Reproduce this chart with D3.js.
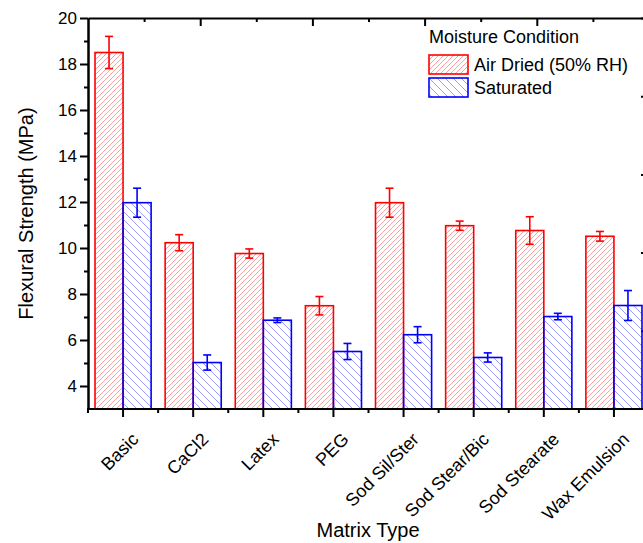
<!DOCTYPE html>
<html>
<head>
<meta charset="utf-8">
<script src="https://cdnjs.cloudflare.com/ajax/libs/d3/7.8.5/d3.min.js"></script>
<style>
  html, body { margin: 0; padding: 0; background: #fff; }
  svg { display: block; font-family: "Liberation Sans", Arial, sans-serif; }
</style>
</head>
<body>
<div id="chart"></div>
<script>
var categories = ["Basic", "CaCl2", "Latex", "PEG", "Sod Sil/Ster", "Sod Stear/Bic", "Sod Stearate", "Wax Emulsion"];
var seriesNames = ["Air Dried (50% RH)", "Saturated"];
var airDried = [18.5, 10.23, 9.76, 7.49, 11.97, 10.97, 10.76, 10.51];
var airDriedErr = [0.7, 0.35, 0.2, 0.4, 0.63, 0.2, 0.6, 0.21];
var saturated = [11.97, 5.02, 6.86, 5.5, 6.23, 5.24, 7.02, 7.5];
var saturatedErr = [0.63, 0.33, 0.1, 0.35, 0.35, 0.2, 0.14, 0.65];
var yMajorTicks = [4, 6, 8, 10, 12, 14, 16, 18, 20];
var yMinorTicks = [5, 7, 9, 11, 13, 15, 17, 19];
var topTicks = [1, 2, 3, 4, 5, 6, 7, 8, 9];
var rightTicks = [1, 2, 3, 4, 5];

(function () {
    var width = 643, height = 543;
    var plotLeft = 88, plotRight = 649, plotTop = 18, plotBottom = 409;

    var svg = d3.select("#chart").append("svg")
	    .attr("width", width)
	    .attr("height", height);

    // hatch patterns (same user space for every bar)
    var defs = svg.append("defs");
    defs.append("pattern")
	.attr("id", "hatchRed")
	.attr("patternUnits", "userSpaceOnUse")
	.attr("width", 5).attr("height", 5)
	.append("path")
	.attr("d", "M0,5 L5,0 M-1,1 L1,-1 M4,6 L6,4")
	.attr("stroke", "#ffa0a0")
	.attr("stroke-width", 1);
    defs.append("pattern")
	.attr("id", "hatchBlue")
	.attr("patternUnits", "userSpaceOnUse")
	.attr("width", 8).attr("height", 8)
	.append("path")
	.attr("d", "M0,0 L8,8 M-1,7 L1,9 M7,-1 L9,1")
	.attr("stroke", "#9c9cff")
	.attr("stroke-width", 1);

    var x = d3.scaleBand()
	    .domain(categories)
	    .range([plotLeft, plotRight])
	    .paddingInner(0.2)
	    .paddingOuter(0.1);
    var xSeries = d3.scaleBand()
	    .domain([0, 1])
	    .range([0, x.bandwidth()]);
    var y = d3.scaleLinear()
	    .domain([3, 20])
	    .range([plotBottom, plotTop]);
    var xTop = d3.scaleLinear().domain([0, 10]).range([plotLeft, plotRight]);
    var yRight = d3.scaleLinear().domain([0, 5]).range([plotBottom, plotTop]);

    var colors = ["#ff0000", "#0000ff"];
    var fills = ["url(#hatchRed)", "url(#hatchBlue)"];

    var styleAxis = function (g) {
	g.select(".domain").attr("stroke-width", 2);
	g.selectAll(".tick line").attr("stroke-width", 2);
	g.selectAll(".tick text").attr("fill", "#000");
    };

    // right axis ticks (mostly off the picture)
    svg.append("g")
	.attr("transform", "translate(" + plotRight + ",0)")
	.call(d3.axisRight(yRight).tickValues(rightTicks).tickSize(-8).tickFormat("").tickSizeOuter(0))
	.call(styleAxis);

    var rows = categories.map(function (c, i) {
	return {cat: c, values: [airDried[i], saturated[i]], errs: [airDriedErr[i], saturatedErr[i]]};
    });

    var barX = function (d, i) { return x(d.cat) + xSeries(i); };

    var bars = svg.append("g");
    rows.forEach(function (row) {
	bars.selectAll(null)
	    .data(row.values)
	    .enter().append("rect")
	    .attr("x", function (d, i) { return barX(row, i); })
	    .attr("y", function (d) { return y(d); })
	    .attr("width", xSeries.bandwidth())
	    .attr("height", function (d) { return y(3) - y(d); })
	    .attr("fill", function (d, i) { return fills[i]; })
	    .attr("stroke", function (d, i) { return colors[i]; })
	    .attr("stroke-width", 1.6);
    });

    // error bars
    var errData = [];
    rows.forEach(function (row) {
	row.values.forEach(function (v, i) {
	    errData.push({cx: barX(row, i) + xSeries.bandwidth() / 2, v: v, e: row.errs[i], i: i});
	});
    });
    var errs = svg.append("g").selectAll("g")
	    .data(errData)
	    .enter().append("g")
	    .attr("stroke", function (d) { return colors[d.i]; })
	    .attr("stroke-width", 1.6);
    errs.append("line")
	.attr("x1", function (d) { return d.cx; })
	.attr("x2", function (d) { return d.cx; })
	.attr("y1", function (d) { return y(d.v + d.e); })
	.attr("y2", function (d) { return y(d.v - d.e); });
    errs.append("line")
	.attr("x1", function (d) { return d.cx - 4; })
	.attr("x2", function (d) { return d.cx + 4; })
	.attr("y1", function (d) { return y(d.v + d.e); })
	.attr("y2", function (d) { return y(d.v + d.e); });
    errs.append("line")
	.attr("x1", function (d) { return d.cx - 4; })
	.attr("x2", function (d) { return d.cx + 4; })
	.attr("y1", function (d) { return y(d.v - d.e); })
	.attr("y2", function (d) { return y(d.v - d.e); });

    // left axis
    svg.append("g")
	.attr("transform", "translate(" + plotLeft + ",0)")
	.call(d3.axisLeft(y).tickValues(yMinorTicks).tickSize(4).tickFormat("").tickSizeOuter(0))
	.call(styleAxis);
    svg.append("g")
	.attr("transform", "translate(" + plotLeft + ",0)")
	.call(d3.axisLeft(y).tickValues(yMajorTicks).tickSize(8).tickPadding(3).tickSizeOuter(0))
	.call(styleAxis)
	.selectAll("text")
	.attr("font-size", 17)
	.attr("font-family", "Liberation Sans, Arial, sans-serif");

    // top axis, ticks pointing in
    svg.append("g")
	.attr("transform", "translate(0," + plotTop + ")")
	.call(d3.axisTop(xTop).tickValues(topTicks).tickSize(-4).tickFormat("").tickSizeOuter(0))
	.call(styleAxis)
	.selectAll(".tick line")
	.attr("y2", function (d) { return d % 2 === 0 ? 8 : 4; });

    // bottom axis: minor ticks between groups, major at group centers
    var bounds = d3.range(categories.length + 1).map(function (i) { return plotLeft + x.step() * i; });
    var xAxis = svg.append("g")
	    .attr("transform", "translate(0," + plotBottom + ")");
    xAxis.append("line")
	.attr("x1", plotLeft - 1).attr("x2", plotRight)
	.attr("stroke", "#000").attr("stroke-width", 2);
    xAxis.selectAll("line.minor")
	.data(bounds)
	.enter().append("line")
	.attr("class", "minor")
	.attr("x1", function (d) { return d; }).attr("x2", function (d) { return d; })
	.attr("y1", 0).attr("y2", 4)
	.attr("stroke", "#000").attr("stroke-width", 2);
    xAxis.selectAll("line.major")
	.data(categories)
	.enter().append("line")
	.attr("class", "major")
	.attr("x1", function (d) { return x(d) + x.bandwidth() / 2; })
	.attr("x2", function (d) { return x(d) + x.bandwidth() / 2; })
	.attr("y1", 0).attr("y2", 8)
	.attr("stroke", "#000").attr("stroke-width", 2);
    xAxis.selectAll("text")
	.data(categories)
	.enter().append("text")
	.attr("transform", function (d) {
	    return "translate(" + (x(d) + x.bandwidth() / 2 + 12) + ",27) rotate(-45)";
	})
	.attr("text-anchor", "end")
	.attr("dy", "0.35em")
	.attr("font-size", 18)
	.text(function (d) { return d; });

    // axis titles
    svg.append("text")
	.attr("x", 368)
	.attr("y", 537)
	.attr("text-anchor", "middle")
	.attr("font-size", 20)
	.text("Matrix Type");
    svg.append("text")
	.attr("transform", "translate(33," + ((plotTop + plotBottom) / 2) + ") rotate(-90)")
	.attr("text-anchor", "middle")
	.attr("font-size", 20)
	.text("Flexural Strength (MPa)");

    // legend
    var legend = svg.append("g").attr("transform", "translate(429,0)");
    legend.append("text")
	.attr("x", 0).attr("y", 43)
	.attr("font-size", 18)
	.text("Moisture Condition");
    var items = legend.selectAll("g.item")
	    .data(seriesNames)
	    .enter().append("g")
	    .attr("class", "item")
	    .attr("transform", function (d, i) { return "translate(0," + (55 + i * 23) + ")"; });
    items.append("rect")
	.attr("width", 39).attr("height", 19)
	.attr("fill", function (d, i) { return fills[i]; })
	.attr("stroke", function (d, i) { return colors[i]; })
	.attr("stroke-width", 1.6);
    items.append("text")
	.attr("x", 45).attr("y", 16)
	.attr("font-size", 18)
	.text(function (d) { return d; });
})();
</script>
</body>
</html>
